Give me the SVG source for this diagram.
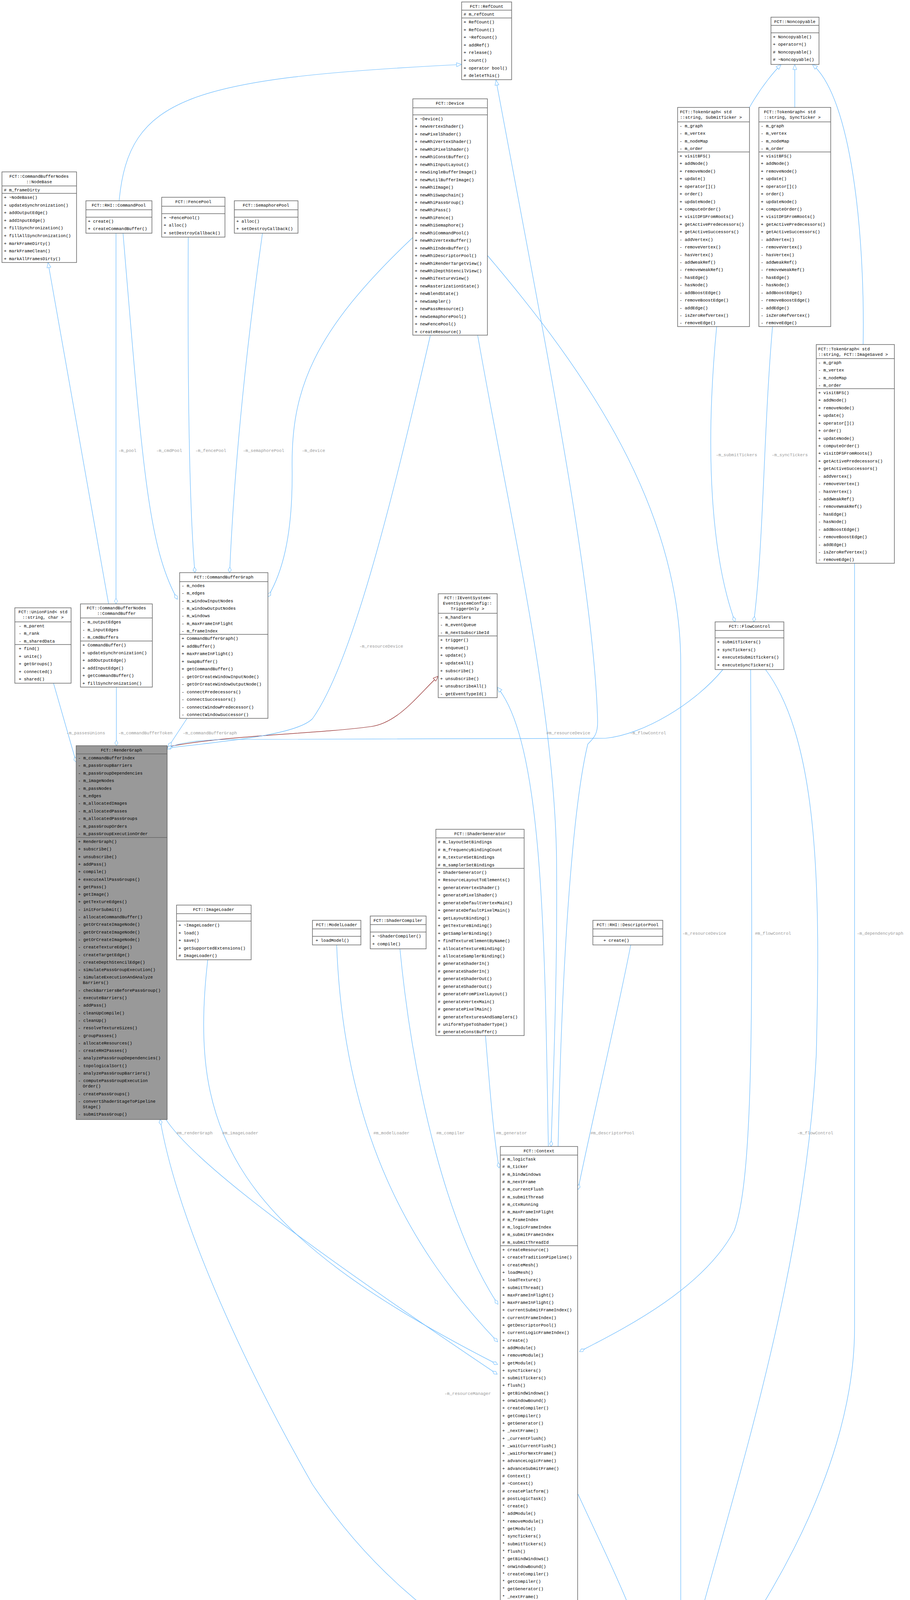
<svg xmlns="http://www.w3.org/2000/svg" width="2330" height="4529" viewBox="0 0 2330 4529">
<style>
text{font-family:"Liberation Mono","DejaVu Sans Mono",monospace;font-size:11px;fill:#000}
.c{text-anchor:middle}
.l{fill:#9a9a9a}
.box{fill:#fff;stroke:#666;stroke-width:1.5}
.g{fill:#999}
.sep{stroke:#666;stroke-width:1.5}
.e{fill:none;stroke:#63b8ff;stroke-width:1.2}
.r{fill:none;stroke:#8b1a1a;stroke-width:1.2}
</style>
<defs>
<marker id="d" markerWidth="16" markerHeight="10" refX="15" refY="5" orient="auto" markerUnits="userSpaceOnUse"><path d="M1,5 L8,1 L15,5 L8,9 Z" fill="#fff" stroke="#63b8ff"/></marker>
<marker id="t" markerWidth="15" markerHeight="12" refX="14" refY="6" orient="auto" markerUnits="userSpaceOnUse"><path d="M1,1 L14,6 L1,11 Z" fill="#fff" stroke="#63b8ff"/></marker>
<marker id="tr" markerWidth="15" markerHeight="12" refX="14" refY="6" orient="auto" markerUnits="userSpaceOnUse"><path d="M1,1 L14,6 L1,11 Z" fill="#fff" stroke="#8b1a1a"/></marker>
</defs>
<rect width="2330" height="4529" fill="#fff"/>

<g id="edges">
<path class="e" marker-end="url(#t)" d="M305,514 C330,250 480,200 1182,165"/>
<path class="e" marker-end="url(#t)" d="M1429,2935 C1440,2400 1470,2050 1505,1905 C1520,1890 1532,1880 1530,1840 C1520,1500 1400,900 1270,205"/>
<path class="e" marker-end="url(#t)" d="M1404,2935 C1395,2400 1390,1900 1273,1759"/>
<path class="r" marker-end="url(#tr)" d="M428,1912 C600,1880 800,1880 950,1860 C1020,1850 1070,1780 1122,1731"/>
<path class="e" marker-end="url(#t)" d="M278,1546 L123,672"/>
<path class="e" marker-end="url(#t)" d="M1919,275 C1950,220 1985,180 2000,165"/>
<path class="e" marker-end="url(#t)" d="M2035,275 L2035,165"/>
<path class="e" marker-end="url(#t)" d="M2210,882 C2215,600 2180,250 2080,165"/>
<path class="e" marker-end="url(#d)" d="M297,597 L297,1546"/>
<path class="e" marker-end="url(#d)" d="M315,597 C365,1200 380,1400 454,1534"/>
<path class="e" marker-end="url(#d)" d="M482,607 C480,1000 485,1300 499,1466"/>
<path class="e" marker-end="url(#d)" d="M672,597 C615,1000 595,1300 588,1466"/>
<path class="e" marker-end="url(#d)" d="M1057,608 C800,850 745,1000 748,1200 C750,1380 720,1470 686,1528"/>
<path class="e" marker-end="url(#d)" d="M137,1749 L195,1951"/>
<path class="e" marker-end="url(#d)" d="M298,1759 L298,1909"/>
<path class="e" marker-end="url(#d)" d="M479,1839 L431,1912"/>
<path class="e" marker-end="url(#d)" d="M1102,858 C1000,1300 900,1700 800,1840 C760,1880 600,1895 428,1915"/>
<path class="e" marker-end="url(#d)" d="M1851,1714 C1780,1800 1650,1880 1550,1890 L600,1893 C520,1893 450,1900 428,1918"/>
<path class="e" marker-end="url(#d)" d="M1223,858 C1300,1300 1420,1800 1425,2200 C1428,2500 1415,2800 1411,2935"/>
<path class="e" marker-end="url(#d)" d="M1248,654 C1500,950 1743,1300 1743,1700 L1743,4100 C1743,4180 1730,4230 1726,4267"/>
<path class="e" marker-end="url(#d)" d="M1835,836 C1800,1200 1830,1450 1882,1592"/>
<path class="e" marker-end="url(#d)" d="M1978,836 C1955,1100 1955,1400 1930,1592"/>
<path class="e" marker-end="url(#d)" d="M1922,1714 C1925,2500 1935,3000 1880,3150 C1800,3300 1600,3400 1484,3460"/>
<path class="e" marker-end="url(#d)" d="M1960,1714 C2100,1900 2100,2300 2090,2700 C2060,3300 1850,3900 1759,4267"/>
<path class="e" marker-end="url(#d)" d="M2188,1442 L2188,3400 C2188,3800 1900,4200 1811,4314"/>
<path class="e" marker-end="url(#d)" d="M1615,2419 C1580,2600 1520,2850 1480,3045"/>
<path class="e" marker-end="url(#d)" d="M1243,2651 C1255,2800 1265,2920 1278,2990"/>
<path class="e" marker-end="url(#d)" d="M1024,2429 C1060,2800 1150,3150 1275,3339"/>
<path class="e" marker-end="url(#d)" d="M862,2419 C880,2900 1050,3200 1274,3435"/>
<path class="e" marker-end="url(#d)" d="M532,2457 C480,2900 600,3150 1274,3493"/>
<path class="e" marker-end="url(#d)" d="M425,2866 C500,2980 800,3200 1273,3518"/>
<path class="e" marker-end="url(#d)" d="M1628,4384 C1300,4300 1000,4100 800,3800 C600,3450 450,3100 410,2866"/>
<path class="e" marker-end="url(#d)" d="M1628,4351 C1570,4290 1510,4230 1479,4196"/>
<path class="e" marker-end="url(#d)" d="M1480,3825 C1560,4000 1640,4150 1655,4267"/>
<text class="l" x="303" y="1157">-m_pool</text>
<text class="l" x="400" y="1157">-m_cmdPool</text>
<text class="l" x="500" y="1157">-m_fencePool</text>
<text class="l" x="622" y="1157">-m_semaphorePool</text>
<text class="l" x="773" y="1157">-m_device</text>
<text class="l" x="170" y="1880">-m_passesUnions</text>
<text class="l" x="303" y="1880">-m_commandBufferToken</text>
<text class="l" x="468" y="1880">-m_commandBufferGraph</text>
<text class="l" x="920" y="1658">-m_resourceDevice</text>
<text class="l" x="1399" y="1880">#m_resourceDevice</text>
<text class="l" x="1613" y="1880">-m_flowControl</text>
<text class="l" x="1833" y="1168">-m_submitTickers</text>
<text class="l" x="1976" y="1168">-m_syncTickers</text>
<text class="l" x="1747" y="2393">-m_resourceDevice</text>
<text class="l" x="1933" y="2393">#m_flowControl</text>
<text class="l" x="2194" y="2393">-m_dependencyGraph</text>
<text class="l" x="2041" y="2904">-m_flowControl</text>
<text class="l" x="452" y="2904">#m_renderGraph</text>
<text class="l" x="569" y="2904">#m_imageLoader</text>
<text class="l" x="956" y="2904">#m_modelLoader</text>
<text class="l" x="1117" y="2904">#m_compiler</text>
<text class="l" x="1270" y="2904">#m_generator</text>
<text class="l" x="1512" y="2904">#m_descriptorPool</text>
<text class="l" x="1138" y="3571">-m_resourceManager</text>
<text class="l" x="1505" y="4238">#m_resourceManager</text>
<text class="l" x="1651" y="4238">-m_context</text>
</g>

<g id="RefCount">
<rect class="box" x="1182" y="5" width="128" height="199"/>
<line class="sep" x1="1182" y1="26" x2="1310" y2="26"/><line class="sep" x1="1182" y1="46" x2="1310" y2="46"/>
<text class="c" x="1246" y="20">FCT::RefCount</text>
<text x="1187" y="40"># m_refCount</text>
<text x="1187" y="60"><tspan x="1187" dy="0">+ RefCount()</tspan><tspan x="1187" dy="19.6">+ RefCount()</tspan><tspan x="1187" dy="19.6">+ ~RefCount()</tspan><tspan x="1187" dy="19.6">+ addRef()</tspan><tspan x="1187" dy="19.6">+ release()</tspan><tspan x="1187" dy="19.6">+ count()</tspan><tspan x="1187" dy="19.6">+ operator bool()</tspan><tspan x="1187" dy="19.6"># deleteThis()</tspan></text>
</g>

<g id="Noncopyable">
<rect class="box" x="1974" y="44" width="123" height="121"/>
<line class="sep" x1="1974" y1="65" x2="2097" y2="65"/><line class="sep" x1="1974" y1="84" x2="2097" y2="84"/>
<text class="c" x="2035" y="59">FCT::Noncopyable</text>
<text x="1979" y="98"><tspan x="1979" dy="0">+ Noncopyable()</tspan><tspan x="1979" dy="19.4">+ operator=()</tspan><tspan x="1979" dy="19.4"># Noncopyable()</tspan><tspan x="1979" dy="19.4"># ~Noncopyable()</tspan></text>
</g>

<g id="Device">
<rect class="box" x="1057" y="253" width="191" height="605"/>
<line class="sep" x1="1057" y1="276" x2="1248" y2="276"/><line class="sep" x1="1057" y1="294" x2="1248" y2="294"/>
<text class="c" x="1152" y="268">FCT::Device</text>
<text x="1062" y="308"><tspan x="1062" dy="0">+ ~Device()</tspan><tspan x="1062" dy="19.45">+ newVertexShader()</tspan><tspan x="1062" dy="19.45">+ newPixelShader()</tspan><tspan x="1062" dy="19.45">+ newRhiVertexShader()</tspan><tspan x="1062" dy="19.45">+ newRhiPixelShader()</tspan><tspan x="1062" dy="19.45">+ newRhiConstBuffer()</tspan><tspan x="1062" dy="19.45">+ newRhiInputLayout()</tspan><tspan x="1062" dy="19.45">+ newSingleBufferImage()</tspan><tspan x="1062" dy="19.45">+ newMutilBufferImage()</tspan><tspan x="1062" dy="19.45">+ newRhiImage()</tspan><tspan x="1062" dy="19.45">+ newRhiSwapchain()</tspan><tspan x="1062" dy="19.45">+ newRhiPassGroup()</tspan><tspan x="1062" dy="19.45">+ newRhiPass()</tspan><tspan x="1062" dy="19.45">+ newRhiFence()</tspan><tspan x="1062" dy="19.45">+ newRhiSemaphore()</tspan><tspan x="1062" dy="19.45">+ newRhiCommandPool()</tspan><tspan x="1062" dy="19.45">+ newRhiVertexBuffer()</tspan><tspan x="1062" dy="19.45">+ newRhiIndexBuffer()</tspan><tspan x="1062" dy="19.45">+ newRhiDescriptorPool()</tspan><tspan x="1062" dy="19.45">+ newRhiRenderTargetView()</tspan><tspan x="1062" dy="19.45">+ newRhiDepthStencilView()</tspan><tspan x="1062" dy="19.45">+ newRhiTextureView()</tspan><tspan x="1062" dy="19.45">+ newRasterizationState()</tspan><tspan x="1062" dy="19.45">+ newBlendState()</tspan><tspan x="1062" dy="19.45">+ newSampler()</tspan><tspan x="1062" dy="19.45">+ newPassResource()</tspan><tspan x="1062" dy="19.45">+ newSemaphorePool()</tspan><tspan x="1062" dy="19.45">+ newFencePool()</tspan><tspan x="1062" dy="19.45">+ createResource()</tspan></text>
</g>

<g id="TokenGraphSubmit">
<rect class="box" x="1735" y="275" width="184" height="561"/>
<line class="sep" x1="1735" y1="312" x2="1919" y2="312"/><line class="sep" x1="1735" y1="389" x2="1919" y2="389"/>
<text x="1741" y="290">FCT::TokenGraph&lt; std</text><text x="1741" y="304">::string, SubmitTicker &gt;</text>
<text x="1740" y="326"><tspan x="1740" dy="0">- m_graph</tspan><tspan x="1740" dy="19.3">- m_vertex</tspan><tspan x="1740" dy="19.3">- m_nodeMap</tspan><tspan x="1740" dy="19.3">- m_order</tspan></text>
<text x="1740" y="403"><tspan x="1740" dy="0">+ visitBFS()</tspan><tspan x="1740" dy="19.43">+ addNode()</tspan><tspan x="1740" dy="19.43">+ removeNode()</tspan><tspan x="1740" dy="19.43">+ update()</tspan><tspan x="1740" dy="19.43">+ operator[]()</tspan><tspan x="1740" dy="19.43">+ order()</tspan><tspan x="1740" dy="19.43">+ updateNode()</tspan><tspan x="1740" dy="19.43">+ computeOrder()</tspan><tspan x="1740" dy="19.43">+ visitDFSFromRoots()</tspan><tspan x="1740" dy="19.43">+ getActivePredecessors()</tspan><tspan x="1740" dy="19.43">+ getActiveSuccessors()</tspan><tspan x="1740" dy="19.43">- addVertex()</tspan><tspan x="1740" dy="19.43">- removeVertex()</tspan><tspan x="1740" dy="19.43">- hasVertex()</tspan><tspan x="1740" dy="19.43">- addWeakRef()</tspan><tspan x="1740" dy="19.43">- removeWeakRef()</tspan><tspan x="1740" dy="19.43">- hasEdge()</tspan><tspan x="1740" dy="19.43">- hasNode()</tspan><tspan x="1740" dy="19.43">- addBoostEdge()</tspan><tspan x="1740" dy="19.43">- removeBoostEdge()</tspan><tspan x="1740" dy="19.43">- addEdge()</tspan><tspan x="1740" dy="19.43">- isZeroRefVertex()</tspan><tspan x="1740" dy="19.43">- removeEdge()</tspan></text>
</g>

<g id="TokenGraphSync">
<rect class="box" x="1943" y="275" width="184" height="561"/>
<line class="sep" x1="1943" y1="312" x2="2127" y2="312"/><line class="sep" x1="1943" y1="389" x2="2127" y2="389"/>
<text x="1956" y="290">FCT::TokenGraph&lt; std</text><text x="1956" y="304">::string, SyncTicker &gt;</text>
<text x="1948" y="326"><tspan x="1948" dy="0">- m_graph</tspan><tspan x="1948" dy="19.3">- m_vertex</tspan><tspan x="1948" dy="19.3">- m_nodeMap</tspan><tspan x="1948" dy="19.3">- m_order</tspan></text>
<text x="1948" y="403"><tspan x="1948" dy="0">+ visitBFS()</tspan><tspan x="1948" dy="19.43">+ addNode()</tspan><tspan x="1948" dy="19.43">+ removeNode()</tspan><tspan x="1948" dy="19.43">+ update()</tspan><tspan x="1948" dy="19.43">+ operator[]()</tspan><tspan x="1948" dy="19.43">+ order()</tspan><tspan x="1948" dy="19.43">+ updateNode()</tspan><tspan x="1948" dy="19.43">+ computeOrder()</tspan><tspan x="1948" dy="19.43">+ visitDFSFromRoots()</tspan><tspan x="1948" dy="19.43">+ getActivePredecessors()</tspan><tspan x="1948" dy="19.43">+ getActiveSuccessors()</tspan><tspan x="1948" dy="19.43">- addVertex()</tspan><tspan x="1948" dy="19.43">- removeVertex()</tspan><tspan x="1948" dy="19.43">- hasVertex()</tspan><tspan x="1948" dy="19.43">- addWeakRef()</tspan><tspan x="1948" dy="19.43">- removeWeakRef()</tspan><tspan x="1948" dy="19.43">- hasEdge()</tspan><tspan x="1948" dy="19.43">- hasNode()</tspan><tspan x="1948" dy="19.43">- addBoostEdge()</tspan><tspan x="1948" dy="19.43">- removeBoostEdge()</tspan><tspan x="1948" dy="19.43">- addEdge()</tspan><tspan x="1948" dy="19.43">- isZeroRefVertex()</tspan><tspan x="1948" dy="19.43">- removeEdge()</tspan></text>
</g>

<g id="TokenGraphImageSaved">
<rect class="box" x="2090" y="882" width="200" height="560"/>
<line class="sep" x1="2090" y1="918" x2="2290" y2="918"/><line class="sep" x1="2090" y1="995" x2="2290" y2="995"/>
<text x="2095" y="897">FCT::TokenGraph&lt; std</text><text x="2095" y="911">::string, FCT::ImageSaved &gt;</text>
<text x="2095" y="932"><tspan x="2095" dy="0">-  m_graph</tspan><tspan x="2095" dy="19.3">-  m_vertex</tspan><tspan x="2095" dy="19.3">-  m_nodeMap</tspan><tspan x="2095" dy="19.3">-  m_order</tspan></text>
<text x="2095" y="1009"><tspan x="2095" dy="0">+  visitBFS()</tspan><tspan x="2095" dy="19.43">+  addNode()</tspan><tspan x="2095" dy="19.43">+  removeNode()</tspan><tspan x="2095" dy="19.43">+  update()</tspan><tspan x="2095" dy="19.43">+  operator[]()</tspan><tspan x="2095" dy="19.43">+  order()</tspan><tspan x="2095" dy="19.43">+  updateNode()</tspan><tspan x="2095" dy="19.43">+  computeOrder()</tspan><tspan x="2095" dy="19.43">+  visitDFSFromRoots()</tspan><tspan x="2095" dy="19.43">+  getActivePredecessors()</tspan><tspan x="2095" dy="19.43">+  getActiveSuccessors()</tspan><tspan x="2095" dy="19.43">-  addVertex()</tspan><tspan x="2095" dy="19.43">-  removeVertex()</tspan><tspan x="2095" dy="19.43">-  hasVertex()</tspan><tspan x="2095" dy="19.43">-  addWeakRef()</tspan><tspan x="2095" dy="19.43">-  removeWeakRef()</tspan><tspan x="2095" dy="19.43">-  hasEdge()</tspan><tspan x="2095" dy="19.43">-  hasNode()</tspan><tspan x="2095" dy="19.43">-  addBoostEdge()</tspan><tspan x="2095" dy="19.43">-  removeBoostEdge()</tspan><tspan x="2095" dy="19.43">-  addEdge()</tspan><tspan x="2095" dy="19.43">-  isZeroRefVertex()</tspan><tspan x="2095" dy="19.43">-  removeEdge()</tspan></text>
</g>

<g id="NodeBase">
<rect class="box" x="5" y="440" width="191" height="232"/>
<line class="sep" x1="5" y1="476" x2="196" y2="476"/><line class="sep" x1="5" y1="495" x2="196" y2="495"/>
<text class="c" x="100" y="455">FCT::CommandBufferNodes</text><text class="c" x="100" y="469">::NodeBase</text>
<text x="10" y="490"># m_frameDirty</text>
<text x="10" y="509"><tspan x="10" dy="0">+ ~NodeBase()</tspan><tspan x="10" dy="19.6">+ updateSynchronization()</tspan><tspan x="10" dy="19.6">+ addOutputEdge()</tspan><tspan x="10" dy="19.6">+ addInputEdge()</tspan><tspan x="10" dy="19.6">+ fillSynchronization()</tspan><tspan x="10" dy="19.6">+ fillAllSynchronization()</tspan><tspan x="10" dy="19.6">+ markFrameDirty()</tspan><tspan x="10" dy="19.6">+ markFrameClean()</tspan><tspan x="10" dy="19.6">+ markAllFramesDirty()</tspan></text>
</g>

<g id="CommandPool">
<rect class="box" x="220" y="514" width="169" height="83"/>
<line class="sep" x1="220" y1="537" x2="389" y2="537"/><line class="sep" x1="220" y1="556" x2="389" y2="556"/>
<text class="c" x="304" y="529">FCT::RHI::CommandPool</text>
<text x="225" y="570"><tspan x="225" dy="0">+ create()</tspan><tspan x="225" dy="19.4">+ createCommandBuffer()</tspan></text>
</g>

<g id="FencePool">
<rect class="box" x="414" y="505" width="162" height="102"/>
<line class="sep" x1="414" y1="528" x2="576" y2="528"/><line class="sep" x1="414" y1="547" x2="576" y2="547"/>
<text class="c" x="495" y="520">FCT::FencePool</text>
<text x="419" y="561"><tspan x="419" dy="0">+ ~FencePool()</tspan><tspan x="419" dy="19.4">+ alloc()</tspan><tspan x="419" dy="19.4">+ setDestroyCallback()</tspan></text>
</g>

<g id="SemaphorePool">
<rect class="box" x="600" y="514" width="163" height="83"/>
<line class="sep" x1="600" y1="537" x2="763" y2="537"/><line class="sep" x1="600" y1="556" x2="763" y2="556"/>
<text class="c" x="681" y="529">FCT::SemaphorePool</text>
<text x="605" y="570"><tspan x="605" dy="0">+ alloc()</tspan><tspan x="605" dy="19.4">+ setDestroyCallback()</tspan></text>
</g>

<g id="UnionFind">
<rect class="box" x="38" y="1556" width="144" height="193"/>
<line class="sep" x1="38" y1="1592" x2="182" y2="1592"/><line class="sep" x1="38" y1="1650" x2="182" y2="1650"/>
<text class="c" x="110" y="1570">FCT::UnionFind&lt; std</text><text class="c" x="110" y="1584">::string, char &gt;</text>
<text x="48" y="1606"><tspan x="48" dy="0">-  m_parent</tspan><tspan x="48" dy="19.3">-  m_rank</tspan><tspan x="48" dy="19.3">-  m_sharedData</tspan></text>
<text x="48" y="1664"><tspan x="48" dy="0">+  find()</tspan><tspan x="48" dy="19.6">+  unite()</tspan><tspan x="48" dy="19.6">+  getGroups()</tspan><tspan x="48" dy="19.6">+  connected()</tspan><tspan x="48" dy="19.6">+  shared()</tspan></text>
</g>

<g id="CommandBuffer">
<rect class="box" x="206" y="1546" width="184" height="213"/>
<line class="sep" x1="206" y1="1582" x2="390" y2="1582"/><line class="sep" x1="206" y1="1641" x2="390" y2="1641"/>
<text class="c" x="298" y="1560">FCT::CommandBufferNodes</text><text class="c" x="298" y="1574">::CommandBuffer</text>
<text x="211" y="1596"><tspan x="211" dy="0">- m_outputEdges</tspan><tspan x="211" dy="19.6">- m_inputEdges</tspan><tspan x="211" dy="19.6">- m_cmdBuffers</tspan></text>
<text x="211" y="1655"><tspan x="211" dy="0">+ CommandBuffer()</tspan><tspan x="211" dy="19.6">+ updateSynchronization()</tspan><tspan x="211" dy="19.6">+ addOutputEdge()</tspan><tspan x="211" dy="19.6">+ addInputEdge()</tspan><tspan x="211" dy="19.6">+ getCommandBuffer()</tspan><tspan x="211" dy="19.6">+ fillSynchronization()</tspan></text>
</g>

<g id="CommandBufferGraph">
<rect class="box" x="460" y="1466" width="226" height="373"/>
<line class="sep" x1="460" y1="1489" x2="686" y2="1489"/><line class="sep" x1="460" y1="1624" x2="686" y2="1624"/>
<text class="c" x="573" y="1481">FCT::CommandBufferGraph</text>
<text x="465" y="1503"><tspan x="465" dy="0">- m_nodes</tspan><tspan x="465" dy="19.3">- m_edges</tspan><tspan x="465" dy="19.3">- m_windowInputNodes</tspan><tspan x="465" dy="19.3">- m_windowOutputNodes</tspan><tspan x="465" dy="19.3">- m_windows</tspan><tspan x="465" dy="19.3">- m_maxFrameInFlight</tspan><tspan x="465" dy="19.3">- m_frameIndex</tspan></text>
<text x="465" y="1638"><tspan x="465" dy="0">+ CommandBufferGraph()</tspan><tspan x="465" dy="19.5">+ addBuffer()</tspan><tspan x="465" dy="19.5">+ maxFrameInFlight()</tspan><tspan x="465" dy="19.5">+ swapBuffer()</tspan><tspan x="465" dy="19.5">+ getCommandBuffer()</tspan><tspan x="465" dy="19.5">- getOrCreateWindowInputNode()</tspan><tspan x="465" dy="19.5">- getOrCreateWindowOutputNode()</tspan><tspan x="465" dy="19.5">- connectPredecessors()</tspan><tspan x="465" dy="19.5">- connectSuccessors()</tspan><tspan x="465" dy="19.5">- connectWindowPredecessor()</tspan><tspan x="465" dy="19.5">- connectWindowSuccessor()</tspan></text>
</g>

<g id="IEventSystem">
<rect class="box" x="1122" y="1520" width="151" height="266"/>
<line class="sep" x1="1122" y1="1570" x2="1273" y2="1570"/><line class="sep" x1="1122" y1="1628" x2="1273" y2="1628"/>
<text class="c" x="1197" y="1534">FCT::IEventSystem&lt;</text><text class="c" x="1197" y="1548">EventSystemConfig::</text><text class="c" x="1197" y="1562">TriggerOnly &gt;</text>
<text x="1127" y="1584"><tspan x="1127" dy="0">- m_handlers</tspan><tspan x="1127" dy="19.3">- m_eventQueue</tspan><tspan x="1127" dy="19.3">- m_nextSubscribeId</tspan></text>
<text x="1127" y="1642"><tspan x="1127" dy="0">+ trigger()</tspan><tspan x="1127" dy="19.7">+ enqueue()</tspan><tspan x="1127" dy="19.7">+ update()</tspan><tspan x="1127" dy="19.7">+ updateAll()</tspan><tspan x="1127" dy="19.7">+ subscribe()</tspan><tspan x="1127" dy="19.7">+ unsubscribe()</tspan><tspan x="1127" dy="19.7">+ unsubscribeAll()</tspan><tspan x="1127" dy="19.7">- getEventTypeId()</tspan></text>
</g>

<g id="FlowControl">
<rect class="box" x="1831" y="1592" width="176" height="122"/>
<line class="sep" x1="1831" y1="1614" x2="2007" y2="1614"/><line class="sep" x1="1831" y1="1633" x2="2007" y2="1633"/>
<text class="c" x="1919" y="1607">FCT::FlowControl</text>
<text x="1836" y="1647"><tspan x="1836" dy="0">+ submitTickers()</tspan><tspan x="1836" dy="19.6">+ syncTickers()</tspan><tspan x="1836" dy="19.6">+ executeSubmitTickers()</tspan><tspan x="1836" dy="19.6">+ executeSyncTickers()</tspan></text>
</g>

<g id="RenderGraph">
<rect class="box g" x="195" y="1909" width="233" height="957"/>
<line class="sep" x1="195" y1="1930" x2="428" y2="1930"/><line class="sep" x1="195" y1="2144" x2="428" y2="2144"/>
<text class="c" x="311" y="1924">FCT::RenderGraph</text>
<text x="200" y="1944"><tspan x="200" dy="0">- m_commandBufferIndex</tspan><tspan x="200" dy="19.4">- m_passGroupBarriers</tspan><tspan x="200" dy="19.4">- m_passGroupDependencies</tspan><tspan x="200" dy="19.4">- m_imageNodes</tspan><tspan x="200" dy="19.4">- m_passNodes</tspan><tspan x="200" dy="19.4">- m_edges</tspan><tspan x="200" dy="19.4">- m_allocatedImages</tspan><tspan x="200" dy="19.4">- m_allocatedPasses</tspan><tspan x="200" dy="19.4">- m_allocatedPassGroups</tspan><tspan x="200" dy="19.4">- m_passGroupOrders</tspan><tspan x="200" dy="19.4">- m_passGroupExecutionOrder</tspan></text>
<text x="200" y="2158"><tspan x="200" dy="0">+ RenderGraph()</tspan><tspan x="200" dy="19.3">+ subscribe()</tspan><tspan x="200" dy="19.3">+ unsubscribe()</tspan><tspan x="200" dy="19.3">+ addPass()</tspan><tspan x="200" dy="19.3">+ compile()</tspan><tspan x="200" dy="19.3">+ executeAllPassGroups()</tspan><tspan x="200" dy="19.3">+ getPass()</tspan><tspan x="200" dy="19.3">+ getImage()</tspan><tspan x="200" dy="19.3">+ getTextureEdges()</tspan><tspan x="200" dy="19.3">- initForSubmit()</tspan><tspan x="200" dy="19.3">- allocateCommandBuffer()</tspan><tspan x="200" dy="19.3">- getOrCreateImageNode()</tspan><tspan x="200" dy="19.3">- getOrCreateImageNode()</tspan><tspan x="200" dy="19.3">- getOrCreateImageNode()</tspan><tspan x="200" dy="19.3">- createTextureEdge()</tspan><tspan x="200" dy="19.3">- createTargetEdge()</tspan><tspan x="200" dy="19.3">- createDepthStencilEdge()</tspan><tspan x="200" dy="19.3">- simulatePassGroupExecution()</tspan><tspan x="200" dy="19.3">- simulateExecutionAndAnalyze</tspan><tspan x="212" dy="14">Barriers()</tspan><tspan x="200" dy="19.3">- checkBarriersBeforePassGroup()</tspan><tspan x="200" dy="19.3">- executeBarriers()</tspan><tspan x="200" dy="19.3">- addPass()</tspan><tspan x="200" dy="19.3">- cleanUpCompile()</tspan><tspan x="200" dy="19.3">- cleanUp()</tspan><tspan x="200" dy="19.3">- resolveTextureSizes()</tspan><tspan x="200" dy="19.3">- groupPasses()</tspan><tspan x="200" dy="19.3">- allocateResources()</tspan><tspan x="200" dy="19.3">- createRHIPasses()</tspan><tspan x="200" dy="19.3">- analyzePassGroupDependencies()</tspan><tspan x="200" dy="19.3">- topologicalSort()</tspan><tspan x="200" dy="19.3">- analyzePassGroupBarriers()</tspan><tspan x="200" dy="19.3">- computePassGroupExecution</tspan><tspan x="212" dy="14">Order()</tspan><tspan x="200" dy="19.3">- createPassGroups()</tspan><tspan x="200" dy="19.3">- convertShaderStageToPipeline</tspan><tspan x="212" dy="14">Stage()</tspan><tspan x="200" dy="19.3">- submitPassGroup()</tspan></text>
</g>

<g id="ImageLoader">
<rect class="box" x="452" y="2317" width="191" height="140"/>
<line class="sep" x1="452" y1="2339" x2="643" y2="2339"/><line class="sep" x1="452" y1="2358" x2="643" y2="2358"/>
<text class="c" x="547" y="2332">FCT::ImageLoader</text>
<text x="457" y="2372"><tspan x="457" dy="0">+ ~ImageLoader()</tspan><tspan x="457" dy="19.6">+ load()</tspan><tspan x="457" dy="19.6">+ save()</tspan><tspan x="457" dy="19.6">+ getSupportedExtensions()</tspan><tspan x="457" dy="19.6"># ImageLoader()</tspan></text>
</g>

<g id="ModelLoader">
<rect class="box" x="800" y="2356" width="124" height="63"/>
<line class="sep" x1="800" y1="2378" x2="924" y2="2378"/><line class="sep" x1="800" y1="2397" x2="924" y2="2397"/>
<text class="c" x="862" y="2371">FCT::ModelLoader</text>
<text x="808" y="2411">+  loadModel()</text>
</g>

<g id="ShaderCompiler">
<rect class="box" x="948" y="2345" width="143" height="84"/>
<line class="sep" x1="948" y1="2367" x2="1091" y2="2367"/><line class="sep" x1="948" y1="2386" x2="1091" y2="2386"/>
<text class="c" x="1019" y="2360">FCT::ShaderCompiler</text>
<text x="953" y="2400"><tspan x="953" dy="0">+ ~ShaderCompiler()</tspan><tspan x="953" dy="19.6">+ compile()</tspan></text>
</g>

<g id="ShaderGenerator">
<rect class="box" x="1116" y="2123" width="226" height="528"/>
<line class="sep" x1="1116" y1="2145" x2="1342" y2="2145"/><line class="sep" x1="1116" y1="2223" x2="1342" y2="2223"/>
<text class="c" x="1229" y="2138">FCT::ShaderGenerator</text>
<text x="1121" y="2159"><tspan x="1121" dy="0"># m_layoutSetBindings</tspan><tspan x="1121" dy="19.5"># m_frequencyBindingCount</tspan><tspan x="1121" dy="19.5"># m_textureSetBindings</tspan><tspan x="1121" dy="19.5"># m_samplerSetBindings</tspan></text>
<text x="1121" y="2237"><tspan x="1121" dy="0">+ ShaderGenerator()</tspan><tspan x="1121" dy="19.45">+ ResourceLayoutToElements()</tspan><tspan x="1121" dy="19.45">+ generateVertexShader()</tspan><tspan x="1121" dy="19.45">+ generatePixelShader()</tspan><tspan x="1121" dy="19.45">+ generateDefaultVertexMain()</tspan><tspan x="1121" dy="19.45">+ generateDefaultPixelMain()</tspan><tspan x="1121" dy="19.45">+ getLayoutBinding()</tspan><tspan x="1121" dy="19.45">+ getTextureBinding()</tspan><tspan x="1121" dy="19.45">+ getSamplerBinding()</tspan><tspan x="1121" dy="19.45">+ findTextureElementByName()</tspan><tspan x="1121" dy="19.45">+ allocateTextureBinding()</tspan><tspan x="1121" dy="19.45">+ allocateSamplerBinding()</tspan><tspan x="1121" dy="19.45"># generateShaderIn()</tspan><tspan x="1121" dy="19.45"># generateShaderIn()</tspan><tspan x="1121" dy="19.45"># generateShaderOut()</tspan><tspan x="1121" dy="19.45"># generateShaderOut()</tspan><tspan x="1121" dy="19.45"># generateFromPixelLayout()</tspan><tspan x="1121" dy="19.45"># generateVertexMain()</tspan><tspan x="1121" dy="19.45"># generatePixelMain()</tspan><tspan x="1121" dy="19.45"># generateTexturesAndSamplers()</tspan><tspan x="1121" dy="19.45"># uniformTypeToShaderType()</tspan><tspan x="1121" dy="19.45"># generateConstBuffer()</tspan></text>
</g>

<g id="DescriptorPool">
<rect class="box" x="1518" y="2356" width="179" height="63"/>
<line class="sep" x1="1518" y1="2378" x2="1697" y2="2378"/><line class="sep" x1="1518" y1="2397" x2="1697" y2="2397"/>
<text class="c" x="1607" y="2371">FCT::RHI::DescriptorPool</text>
<text x="1545" y="2411">+     create()</text>
</g>

<g id="Context">
<rect class="box" x="1281" y="2935" width="198" height="1261"/>
<line class="sep" x1="1281" y1="2957" x2="1479" y2="2957"/><line class="sep" x1="1281" y1="3189" x2="1479" y2="3189"/>
<text class="c" x="1380" y="2950">FCT::Context</text>
<text x="1286" y="2971"><tspan x="1286" dy="0"># m_logicTask</tspan><tspan x="1286" dy="19.33"># m_ticker</tspan><tspan x="1286" dy="19.33"># m_bindWindows</tspan><tspan x="1286" dy="19.33"># m_nextFrame</tspan><tspan x="1286" dy="19.33"># m_currentFlush</tspan><tspan x="1286" dy="19.33"># m_submitThread</tspan><tspan x="1286" dy="19.33"># m_ctxRunning</tspan><tspan x="1286" dy="19.33"># m_maxFrameInFlight</tspan><tspan x="1286" dy="19.33"># m_frameIndex</tspan><tspan x="1286" dy="19.33"># m_logicFrameIndex</tspan><tspan x="1286" dy="19.33"># m_submitFrameIndex</tspan><tspan x="1286" dy="19.33"># m_submitThreadId</tspan></text>
<text x="1286" y="3203"><tspan x="1286" dy="0">+ createResource()</tspan><tspan x="1286" dy="19.3">+ createTraditionPipeline()</tspan><tspan x="1286" dy="19.3">+ createMesh()</tspan><tspan x="1286" dy="19.3">+ loadMesh()</tspan><tspan x="1286" dy="19.3">+ loadTexture()</tspan><tspan x="1286" dy="19.3">+ submitThread()</tspan><tspan x="1286" dy="19.3">+ maxFrameInFlight()</tspan><tspan x="1286" dy="19.3">+ maxFrameInFlight()</tspan><tspan x="1286" dy="19.3">+ currentSubmitFrameIndex()</tspan><tspan x="1286" dy="19.3">+ currentFrameIndex()</tspan><tspan x="1286" dy="19.3">+ getDescriptorPool()</tspan><tspan x="1286" dy="19.3">+ currentLogicFrameIndex()</tspan><tspan x="1286" dy="19.3">+ create()</tspan><tspan x="1286" dy="19.3">+ addModule()</tspan><tspan x="1286" dy="19.3">+ removeModule()</tspan><tspan x="1286" dy="19.3">+ getModule()</tspan><tspan x="1286" dy="19.3">+ syncTickers()</tspan><tspan x="1286" dy="19.3">+ submitTickers()</tspan><tspan x="1286" dy="19.3">+ flush()</tspan><tspan x="1286" dy="19.3">+ getBindWindows()</tspan><tspan x="1286" dy="19.3">+ onWindowBound()</tspan><tspan x="1286" dy="19.3">+ createCompiler()</tspan><tspan x="1286" dy="19.3">+ getCompiler()</tspan><tspan x="1286" dy="19.3">+ getGenerator()</tspan><tspan x="1286" dy="19.3">+ _nextFrame()</tspan><tspan x="1286" dy="19.3">+ _currentFlush()</tspan><tspan x="1286" dy="19.3">+ _waitCurrentFlush()</tspan><tspan x="1286" dy="19.3">+ _waitForNextFrame()</tspan><tspan x="1286" dy="19.3">+ advanceLogicFrame()</tspan><tspan x="1286" dy="19.3">+ advanceSubmitFrame()</tspan><tspan x="1286" dy="19.3"># Context()</tspan><tspan x="1286" dy="19.3"># ~Context()</tspan><tspan x="1286" dy="19.3"># createPlatform()</tspan><tspan x="1286" dy="19.3"># postLogicTask()</tspan><tspan x="1286" dy="19.3">* create()</tspan><tspan x="1286" dy="19.3">* addModule()</tspan><tspan x="1286" dy="19.3">* removeModule()</tspan><tspan x="1286" dy="19.3">* getModule()</tspan><tspan x="1286" dy="19.3">* syncTickers()</tspan><tspan x="1286" dy="19.3">* submitTickers()</tspan><tspan x="1286" dy="19.3">* flush()</tspan><tspan x="1286" dy="19.3">* getBindWindows()</tspan><tspan x="1286" dy="19.3">* onWindowBound()</tspan><tspan x="1286" dy="19.3">* createCompiler()</tspan><tspan x="1286" dy="19.3">* getCompiler()</tspan><tspan x="1286" dy="19.3">* getGenerator()</tspan><tspan x="1286" dy="19.3">* _nextFrame()</tspan><tspan x="1286" dy="19.3">* _currentFlush()</tspan><tspan x="1286" dy="19.3">* _waitCurrentFlush()</tspan><tspan x="1286" dy="19.3">* _waitForNextFrame()</tspan><tspan x="1286" dy="19.3">* advanceLogicFrame()</tspan><tspan x="1286" dy="19.3">* advanceSubmitFrame()</tspan></text>
</g>

<g id="ResourceManager">
<rect class="box" x="1628" y="4267" width="183" height="257"/>
<line class="sep" x1="1628" y1="4289" x2="1811" y2="4289"/><line class="sep" x1="1628" y1="4327" x2="1811" y2="4327"/>
<text class="c" x="1719" y="4282">FCT::ResourceManager</text>
<text x="1633" y="4303"><tspan x="1633" dy="0">- m_target</tspan><tspan x="1633" dy="19">- m_needChangeIndexImages</tspan></text>
<text x="1633" y="4341"><tspan x="1633" dy="0">+ ResourceManager()</tspan><tspan x="1633" dy="19.7">+ allocateImage()</tspan><tspan x="1633" dy="19.7">+ allocateImage()</tspan><tspan x="1633" dy="19.7">+ resizeImage()</tspan><tspan x="1633" dy="19.7">+ allocateTarget()</tspan><tspan x="1633" dy="19.7">- updateGraph()</tspan><tspan x="1633" dy="19.7">- addvanceFrame()</tspan><tspan x="1633" dy="19.7">- registerWindow()</tspan><tspan x="1633" dy="19.7">- resizeSub()</tspan><tspan x="1633" dy="19.7">- resize()</tspan></text>
</g>
</svg>
